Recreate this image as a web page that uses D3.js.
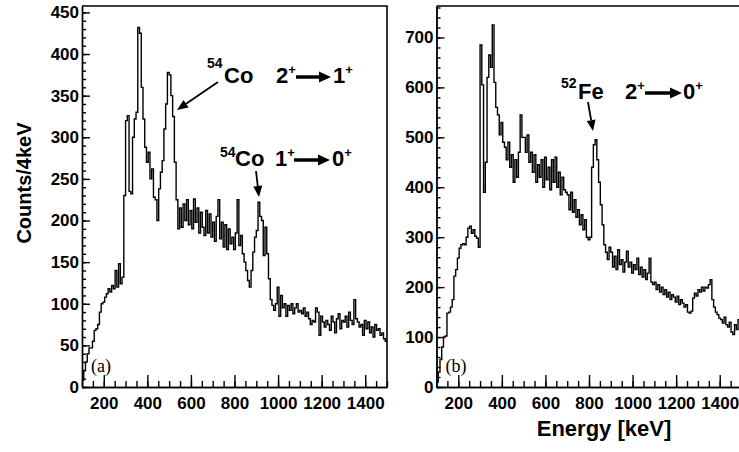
<!DOCTYPE html>
<html>
<head>
<meta charset="utf-8">
<script src="https://cdn.jsdelivr.net/npm/d3@7"></script>
<style>
body{margin:0;background:#fff;}
svg{display:block;background:#fff;}
.axis path,.axis line{stroke:#000;stroke-width:1.4px;}
.axis text{font-family:"Liberation Sans",Arial,sans-serif;font-weight:bold;font-size:17px;fill:#000;}
.hist{fill:none;stroke:#000;stroke-width:1.4px;}
.lbl{font-family:"Liberation Sans",Arial,sans-serif;font-weight:bold;fill:#000;}
.tag{font-family:"Liberation Serif","Times New Roman",serif;font-size:18px;fill:#000;}
</style>
</head>
<body>
<svg width="739" height="452"></svg>
<script>
// bins: 8 keV wide from 100 to 1500 keV (values = counts/4keV)
const binWidth = 8;
const binLow = d3.range(100, 1500, binWidth);

// panel (a) 54Co
const countsA = [
  // 100-300
  8, 20, 30, 40, 47, 47, 55, 68, 70, 75, 90, 100, 102, 108, 112, 118, 114, 122, 118, 140, 120, 148, 124, 132, 230,
  // 300-500
  320, 326, 235, 232, 300, 322, 330, 432, 425, 360, 322, 288, 270, 282, 250, 262, 228, 225, 200, 238, 258, 272, 310, 340, 378,
  // 500-700
  375, 350, 325, 270, 225, 190, 215, 192, 220, 200, 225, 195, 212, 190, 226, 198, 215, 185, 210, 192, 182, 212, 185, 208, 180,
  // 700-900
  198, 175, 205, 225, 178, 198, 168, 195, 165, 190, 172, 180, 165, 185, 225, 170, 182, 160, 150, 140, 128, 120, 140, 162, 180,
  // 900-1100
  188, 222, 205, 200, 158, 192, 160, 130, 105, 98, 92, 100, 120, 85, 110, 95, 100, 85, 98, 92, 100, 88, 95, 100, 90,
  // 1100-1300
  92, 88, 95, 85, 90, 82, 75, 80, 78, 95, 90, 62, 85, 78, 72, 80, 75, 68, 85, 78, 65, 82, 88, 70, 80,
  // 1300-1500
  78, 85, 72, 90, 80, 75, 105, 82, 78, 72, 75, 62, 80, 70, 78, 65, 72, 60, 75, 68, 70, 62, 65, 58, 55
];

// panel (b) 52Fe
const countsB = [
  // 100-300
  10, 30, 55, 80, 100, 102, 148, 150, 160, 175, 222, 235, 258, 278, 285, 287, 285, 300, 318, 322, 308, 315, 302, 298, 280,
  // 300-500
  685, 605, 390, 450, 620, 665, 640, 725, 610, 560, 545, 505, 530, 490, 480, 455, 490, 440, 465, 410, 455, 420, 470, 545, 500,
  // 500-700
  500, 470, 505, 450, 470, 430, 465, 410, 445, 420, 455, 400, 460, 415, 440, 395, 455, 410, 460, 400, 430, 385, 420, 395, 390,
  // 700-900
  385, 355, 390, 350, 375, 340, 355, 325, 345, 315, 335, 300, 295, 300, 440, 485, 495, 455, 410, 365, 325, 285, 270, 255, 280,
  // 900-1100
  270, 240, 262, 235, 275, 245, 255, 230, 250, 272, 240, 250, 228, 245, 235, 258, 225, 240, 220, 235, 215, 228, 258, 210, 205,
  // 1100-1300
  210, 195, 205, 190, 200, 185, 195, 180, 190, 175, 185, 180, 170, 182, 165, 175, 168, 160, 165, 150, 148, 152, 178, 188, 182,
  // 1300-1500
  195, 190, 200, 192, 200, 198, 205, 215, 175, 160, 150, 145, 138, 135, 128, 140, 125, 120, 130, 110, 105, 125, 115, 135, 130
];

const xTicks = [200, 400, 600, 800, 1000, 1200, 1400];
const yTicksA = [0, 50, 100, 150, 200, 250, 300, 350, 400, 450];
const yTicksB = [0, 100, 200, 300, 400, 500, 600, 700];

const svg = d3.select('svg');
const plotTop = 6, plotBottom = 387;

function drawPanel(left, right, yMax, counts, yTicks, yMinorStep, tag){
  const xScale = d3.scaleLinear().domain([100, 1500]).range([left, right]);
  const yScale = d3.scaleLinear().domain([0, yMax]).range([plotBottom, plotTop]);
  const g = svg.append('g');

  // frame top / right
  g.append('path')
    .attr('d', `M${left},${plotTop}H${right}V${plotBottom}`)
    .attr('fill', 'none').attr('stroke', '#000').attr('stroke-width', 1.6);

  // minor ticks
  g.append('g').attr('class', 'axis').attr('transform', `translate(0,${plotBottom})`)
    .call(d3.axisBottom(xScale).tickValues(d3.range(100, 1501, 50)).tickSize(-6).tickSizeOuter(0).tickFormat(''));
  g.append('g').attr('class', 'axis').attr('transform', `translate(${left},0)`)
    .call(d3.axisLeft(yScale).tickValues(d3.range(0, yMax, yMinorStep)).tickSize(-4).tickSizeOuter(0).tickFormat(''));

  // major ticks + labels
  g.append('g').attr('class', 'axis').attr('transform', `translate(0,${plotBottom})`)
    .call(d3.axisBottom(xScale).tickValues(xTicks).tickSize(-12).tickSizeOuter(0).tickPadding(10).tickFormat(d3.format('d')));
  g.append('g').attr('class', 'axis').attr('transform', `translate(${left},0)`)
    .call(d3.axisLeft(yScale).tickValues(yTicks).tickSize(-8).tickSizeOuter(0).tickPadding(3).tickFormat(d3.format('d')));

  // histogram as steps
  const pts = counts.map((c, i) => [binLow[i], c]);
  pts.push([binLow[binLow.length - 1] + binWidth, counts[counts.length - 1]]);
  const line = d3.line()
    .x(d => xScale(d[0]))
    .y(d => yScale(d[1]))
    .curve(d3.curveStepAfter);
  g.append('path').attr('class', 'hist').attr('d', line(pts));

  g.append('text').attr('class', 'tag')
    .attr('x', left + 9).attr('y', 372).text(tag);
}

drawPanel(82, 387, 457.7, countsA, yTicksA, 10, '(a)');
drawPanel(436.5, 741.5, 763, countsB, yTicksB, 20, '(b)');

// axis titles
svg.append('text').attr('class', 'lbl')
  .attr('transform', 'translate(31,183) rotate(-90)')
  .attr('text-anchor', 'middle').style('font-size', '20px')
  .text('Counts/4keV');
svg.append('text').attr('class', 'lbl')
  .attr('x', 604).attr('y', 436)
  .attr('text-anchor', 'middle').style('font-size', '22px')
  .text('Energy [keV]');

// annotation: one text per label, pieces as tspans
function label(parts){
  const t = svg.append('text').attr('class', 'lbl');
  parts.forEach(p => {
    const s = t.append('tspan').style('font-size', p.size + 'px').text(p.s);
    if (p.x !== undefined) s.attr('x', p.x);
    if (p.y !== undefined) s.attr('y', p.y);
    if (p.dy !== undefined) s.attr('dy', p.dy);
  });
}
function fatArrow(x1, x2, y){
  svg.append('path').attr('d', `M${x1},${y}H${x2 - 10}`)
    .attr('stroke', '#000').attr('stroke-width', 3.5);
  svg.append('path').attr('d', `M${x2 - 12},${y - 5.5}L${x2},${y}L${x2 - 12},${y + 5.5}Z`)
    .attr('fill', '#000');
}
function pointer(x1, y1, x2, y2){
  const a = Math.atan2(y2 - y1, x2 - x1);
  const len = 11, w = 4.5;
  const bx = x2 - len * Math.cos(a), by = y2 - len * Math.sin(a);
  svg.append('line').attr('x1', x1).attr('y1', y1).attr('x2', bx).attr('y2', by)
    .attr('stroke', '#000').attr('stroke-width', 1.8);
  svg.append('path')
    .attr('d', `M${x2},${y2}L${bx - w * Math.sin(a)},${by + w * Math.cos(a)}L${bx + w * Math.sin(a)},${by - w * Math.cos(a)}Z`)
    .attr('fill', '#000');
}

// 54Co 2+ -> 1+
label([
  {s: '54', size: 14, x: 207, y: 68},
  {s: 'Co', size: 22, x: 224, y: 83},
  {s: '2', size: 22, x: 276, y: 83},
  {s: '+', size: 13, dy: -9},
  {s: '1', size: 22, x: 333, y: 83},
  {s: '+', size: 13, dy: -9}
]);
fatArrow(296, 331, 77);
pointer(218, 82, 177, 110);

// 54Co 1+ -> 0+
label([
  {s: '54', size: 14, x: 220, y: 157},
  {s: 'Co', size: 22, x: 235, y: 166},
  {s: '1', size: 22, x: 275, y: 166},
  {s: '+', size: 13, dy: -9},
  {s: '0', size: 22, x: 332, y: 166},
  {s: '+', size: 13, dy: -9}
]);
fatArrow(294, 330, 160);
pointer(256, 171, 259, 197);

// 52Fe 2+ -> 0+
label([
  {s: '52', size: 14, x: 561, y: 88},
  {s: 'Fe', size: 22, x: 578, y: 99},
  {s: '2', size: 22, x: 625, y: 99},
  {s: '+', size: 13, dy: -9},
  {s: '0', size: 22, x: 683, y: 99},
  {s: '+', size: 13, dy: -9}
]);
fatArrow(645, 682, 93);
pointer(588, 102, 593, 131);
</script>
</body>
</html>
